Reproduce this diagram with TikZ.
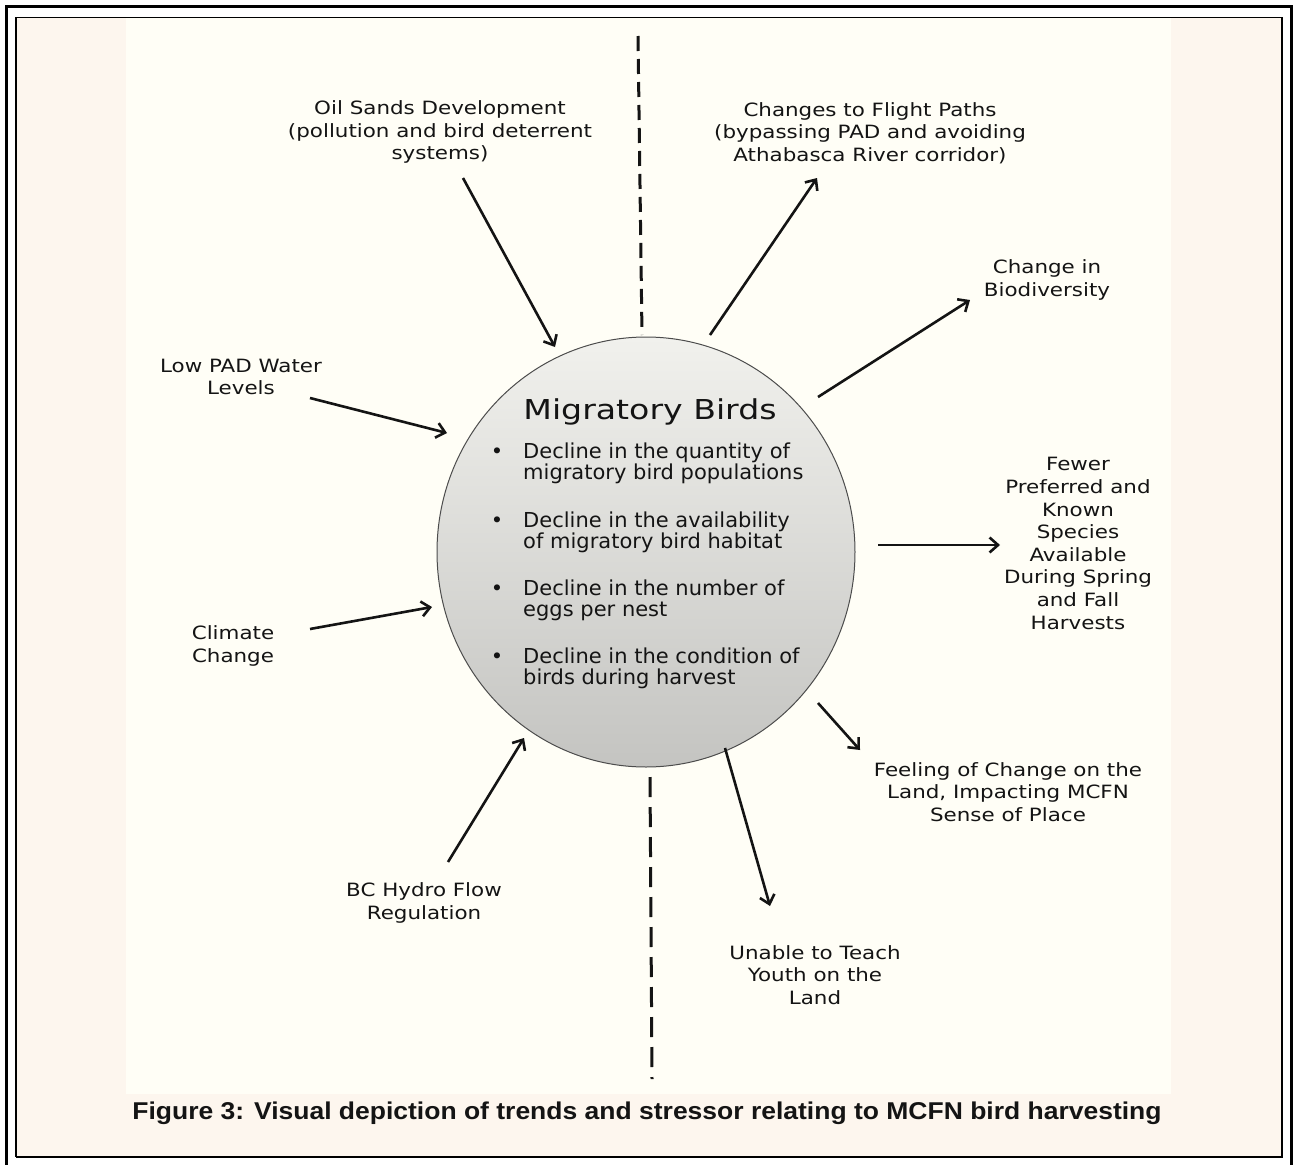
\documentclass[tikz,border=0pt]{standalone}
\usepackage{fontspec}
\setmainfont{Liberation Sans}
\newfontfamily\labf[FakeStretch=1.17]{DejaVu Sans}
\newfontfamily\ttlf[FakeStretch=1.21]{DejaVu Sans}
\newfontfamily\bodf[FakeStretch=1.02]{DejaVu Sans}
\newfontfamily\capf[FakeStretch=1.09]{Liberation Sans}
\usetikzlibrary{shapes.geometric,arrows.meta}
\definecolor{pagebg}{RGB}{253,246,238}
\definecolor{panelbg}{RGB}{255,254,246}
\definecolor{ellT}{RGB}{241,241,237}
\definecolor{ellM}{RGB}{224,224,221}
\definecolor{ellB}{RGB}{196,196,193}
\definecolor{ink}{RGB}{20,20,20}
\begin{document}
\begin{tikzpicture}[x=1pt,y=-1pt,
  lab/.style={font=\labf\fontsize{18.3}{22.6}\selectfont, align=center, inner sep=0pt, text=ink},
  body/.style={font=\bodf\fontsize{20.6}{21.7}\selectfont, align=left, inner sep=0pt, anchor=north west, text=ink},
  dotb/.style={font=\bodf\fontsize{20.6}{21.7}\selectfont, inner sep=0pt, anchor=base, text=ink},
  arr/.style={draw=ink, line width=2.6pt, -{Straight Barb[length=8.5pt,width=15pt]}},
  dline/.style={draw=ink, line width=3pt}]
\useasboundingbox (0,0) rectangle (1294,1165);
% backgrounds
\fill[white] (0,0) rectangle (1294,1165);
\fill[pagebg] (16,17) rectangle (1282,1157);
\fill[panelbg] (126,17) rectangle (1171,1094);
% frames
\draw[line width=3pt] (6.5,1172) -- (6.5,6.5) -- (1291.5,6.5) -- (1291.5,1172);
\draw[line width=1pt] (16,17) -- (1282,17);
\draw[line width=2pt] (16,17) -- (16,1157);
\draw[line width=2.5pt] (1282,17) -- (1282,1157) -- (16,1157);
% dashed divider
\coordinate (dt1) at (638,36);
\coordinate (dt2) at (642,335);
\coordinate (db1) at (650,777);
\coordinate (db2) at (652,1079);
\draw[dline, dash pattern=on 15pt off 8pt] (dt1) -- (dt2);
\draw[dline, dash pattern=on 20pt off 10pt] (db1) -- (db2);
% central ellipse
\node[ellipse, draw=black!70, line width=1pt, minimum width=418pt, minimum height=430pt,
      inner sep=0pt, outer sep=0pt, top color=ellT, middle color=ellM, bottom color=ellB] (mb) at (646,552) {};
\node[font=\ttlf\fontsize{27.4}{30}\selectfont, anchor=base, inner sep=0pt, text=ink] (ttl) at (650,419) {Migratory Birds};
\node[dotb] (d1) at (497,458) {•};
\node[dotb] (d2) at (497,527) {•};
\node[dotb] (d3) at (497,595) {•};
\node[dotb] (d4) at (497,663) {•};
\node[body] (b1) at (523,442.3) {Decline in the quantity of\\migratory bird populations};
\node[body] (b2) at (523,511.3) {Decline in the availability\\of migratory bird habitat};
\node[body] (b3) at (523,579.3) {Decline in the number of\\eggs per nest};
\node[body] (b4) at (523,647.3) {Decline in the condition of\\birds during harvest};
% labels
\node[lab] (oil) at (440,132) {Oil Sands Development\\(pollution and bird deterrent\\systems)};
\node[lab] (flight) at (870,133) {Changes to Flight Paths\\(bypassing PAD and avoiding\\Athabasca River corridor)};
\node[lab] (biod) at (1047,280) {Change in\\Biodiversity};
\node[lab] (lowpad) at (241,377) {Low PAD Water\\Levels};
\node[lab] (fewer) at (1078,543.5) {Fewer\\Preferred and\\Known\\Species\\Available\\During Spring\\and Fall\\Harvests};
\node[lab] (climate) at (233,646) {Climate\\Change};
\node[lab] (feel) at (1008,792) {Feeling of Change on the\\Land, Impacting MCFN\\Sense of Place};
\node[lab] (bch) at (424,903) {BC Hydro Flow\\Regulation};
\node[lab] (unable) at (815,975) {Unable to Teach\\Youth on the\\Land};
% arrow ends
\coordinate (oilS) at (463,178);   \coordinate (oilE) at (555,347);
\coordinate (lowS) at (310,398);   \coordinate (lowE) at (447,433);
\coordinate (cliS) at (310,629);   \coordinate (cliE) at (432,607);
\coordinate (bchS) at (448,862);   \coordinate (bchE) at (524,738);
\coordinate (fliS) at (710,335);   \coordinate (fliE) at (817,178);
\coordinate (bioS) at (818,397);   \coordinate (bioE) at (970,300);
\coordinate (fewS) at (878,545);   \coordinate (fewE) at (1000,545);
\coordinate (feeS) at (818,703);   \coordinate (feeE) at (860,750);
\coordinate (unaS) at (725,748);   \coordinate (unaE) at (770,906);
\draw[arr] (oilS) -- (oilE);
\draw[arr] (lowS) -- (lowE);
\draw[arr] (cliS) -- (cliE);
\draw[arr] (bchS) -- (bchE);
\draw[arr] (fliS) -- (fliE);
\draw[arr] (bioS) -- (bioE);
\draw[arr] (fewS) -- (fewE);
\draw[arr] (feeS) -- (feeE);
\draw[arr] (unaS) -- (unaE);
% caption
\node[font=\capf\bfseries\fontsize{24.3}{28}\selectfont, anchor=base, inner sep=0pt, text=ink] (cap) at (647,1119)
  {Figure 3: Visual depiction of trends and stressor relating to MCFN bird harvesting};
\end{tikzpicture}
\end{document}
